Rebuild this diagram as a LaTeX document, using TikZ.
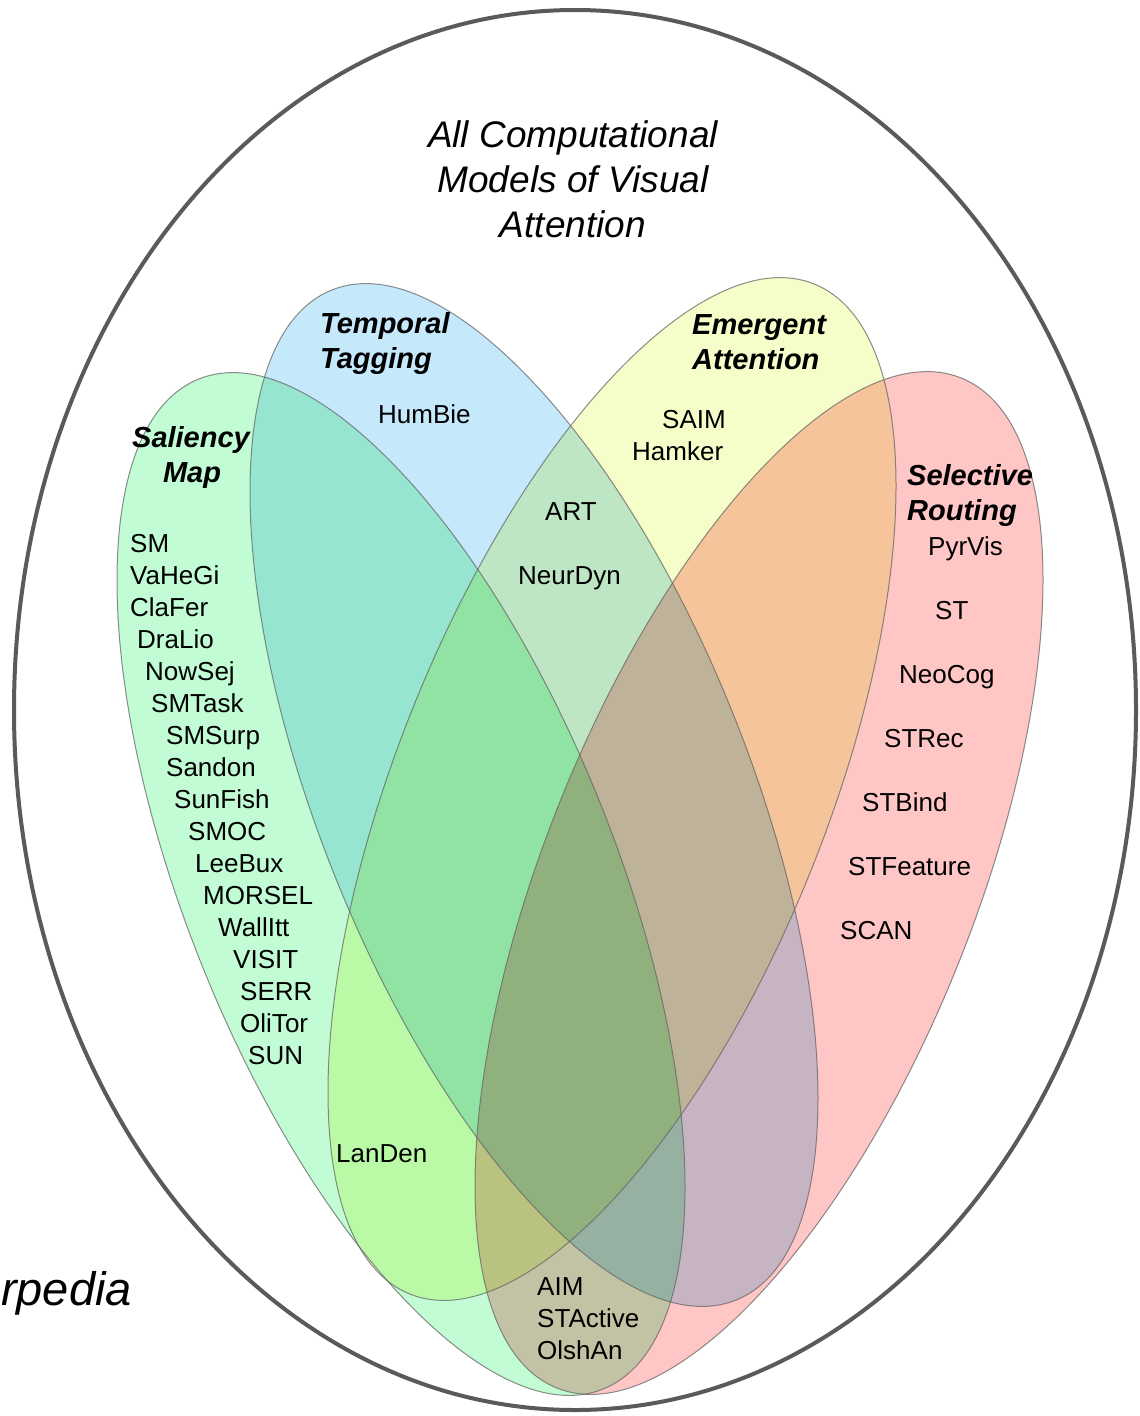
\documentclass[tikz,border=0pt]{standalone}
\usepackage{fontspec}
\setmainfont{Liberation Sans}
\definecolor{cgreen}{RGB}{194,252,212}
\definecolor{cblue}{RGB}{198,232,251}
\definecolor{cyellow}{RGB}{245,253,200}
\definecolor{cred}{RGB}{255,198,198}
\definecolor{outerc}{RGB}{90,90,90}
\begin{document}
\begin{tikzpicture}[x=1pt,y=-1pt,
  lab/.style={font=\fontsize{26}{32}\selectfont, anchor=base west, inner sep=0pt},
  ttl/.style={font=\fontsize{29}{35}\bfseries\itshape\selectfont, anchor=base west, inner sep=0pt},
  ttlc/.style={ttl, anchor=base},
  head/.style={font=\fontsize{37}{45}\itshape\selectfont, anchor=base, inner sep=0pt},
  setfill/.style={fill=#1},
  setline/.style={draw=black!60, line width=1pt, draw opacity=0.75}]
\useasboundingbox (0,0) rectangle (1140,1416);
\fill[white] (0,0) rectangle (1140,1416);
\clip (0,0) rectangle (1140,1416);

% outer set
\draw[outerc, line width=4pt] (575,710) ellipse [x radius=561pt, y radius=700pt];

% four sets
\begin{scope}[blend group=multiply]
  \begin{scope}[shift={(401,884)}, rotate=-68.2]
    \fill[cgreen] (0,0) ellipse [x radius=544pt, y radius=215pt];
  \end{scope}
  \begin{scope}[shift={(534,795)}, rotate=-68.2]
    \fill[cblue] (0,0) ellipse [x radius=544pt, y radius=215pt];
  \end{scope}
  \begin{scope}[shift={(612,789)}, rotate=68.2]
    \fill[cyellow] (0,0) ellipse [x radius=544pt, y radius=215pt];
  \end{scope}
  \begin{scope}[shift={(759,883)}, rotate=68.2]
    \fill[cred] (0,0) ellipse [x radius=544pt, y radius=215pt];
  \end{scope}
\end{scope}
\begin{scope}[shift={(401,884)}, rotate=-68.2]
  \draw[setline] (0,0) ellipse [x radius=544pt, y radius=215pt];
\end{scope}
\begin{scope}[shift={(534,795)}, rotate=-68.2]
  \draw[setline] (0,0) ellipse [x radius=544pt, y radius=215pt];
\end{scope}
\begin{scope}[shift={(612,789)}, rotate=68.2]
  \draw[setline] (0,0) ellipse [x radius=544pt, y radius=215pt];
\end{scope}
\begin{scope}[shift={(759,883)}, rotate=68.2]
  \draw[setline] (0,0) ellipse [x radius=544pt, y radius=215pt];
\end{scope}

% title
\node[head] (t1) at (573,147) {All Computational};
\node[head] (t2) at (573,192) {Models of Visual};
\node[head] (t3) at (573,237) {Attention};

% set titles
\node[ttl] (tt1) at (320,333) {Temporal};
\node[ttl] (tt2) at (320,368) {Tagging};
\node[ttl] (ea1) at (692,334) {Emergent};
\node[ttl] (ea2) at (692,369) {Attention};
\node[ttlc] (sm1) at (191,447) {Saliency};
\node[ttlc] (sm2) at (192,482) {Map};
\node[ttl] (sr1) at (907,485) {Selective};
\node[ttl] (sr2) at (907,520) {Routing};

% saliency map models
\node[lab] (m1) at (130,552) {SM};
\node[lab] (m2) at (130,584) {VaHeGi};
\node[lab] (m3) at (130,616) {ClaFer};
\node[lab] (m4) at (137,648) {DraLio};
\node[lab] (m5) at (145,680) {NowSej};
\node[lab] (m6) at (151,712) {SMTask};
\node[lab] (m7) at (166,744) {SMSurp};
\node[lab] (m8) at (166,776) {Sandon};
\node[lab] (m9) at (174,808) {SunFish};
\node[lab] (m10) at (188,840) {SMOC};
\node[lab] (m11) at (195,872) {LeeBux};
\node[lab] (m12) at (203,904) {MORSEL};
\node[lab] (m13) at (218,936) {WallItt};
\node[lab] (m14) at (233,968) {VISIT};
\node[lab] (m15) at (240,1000) {SERR};
\node[lab] (m16) at (240,1032) {OliTor};
\node[lab] (m17) at (248,1064) {SUN};

% temporal tagging
\node[lab] (hb) at (378,423) {HumBie};
% intersections
\node[lab] (art) at (545,520) {ART};
\node[lab] (nd) at (518,584) {NeurDyn};
% emergent
\node[lab] (saim) at (662,428) {SAIM};
\node[lab] (ham) at (632,460) {Hamker};
% selective routing
\node[lab] (pv) at (928,555) {PyrVis};
\node[lab] (st) at (935,619) {ST};
\node[lab] (nc) at (899,683) {NeoCog};
\node[lab] (str) at (884,747) {STRec};
\node[lab] (stb) at (862,811) {STBind};
\node[lab] (stf) at (848,875) {STFeature};
\node[lab] (scan) at (840,939) {SCAN};
% others
\node[lab] (ld) at (336,1162) {LanDen};
\node[lab] (aim) at (537,1295) {AIM};
\node[lab] (sta) at (537,1327) {STActive};
\node[lab] (oa) at (537,1359) {OlshAn};

% clipped source mark
\node[font=\fontsize{47}{56}\itshape\selectfont, anchor=base east, inner sep=0pt] (src) at (132,1305) {rpedia};
\end{tikzpicture}
\end{document}
